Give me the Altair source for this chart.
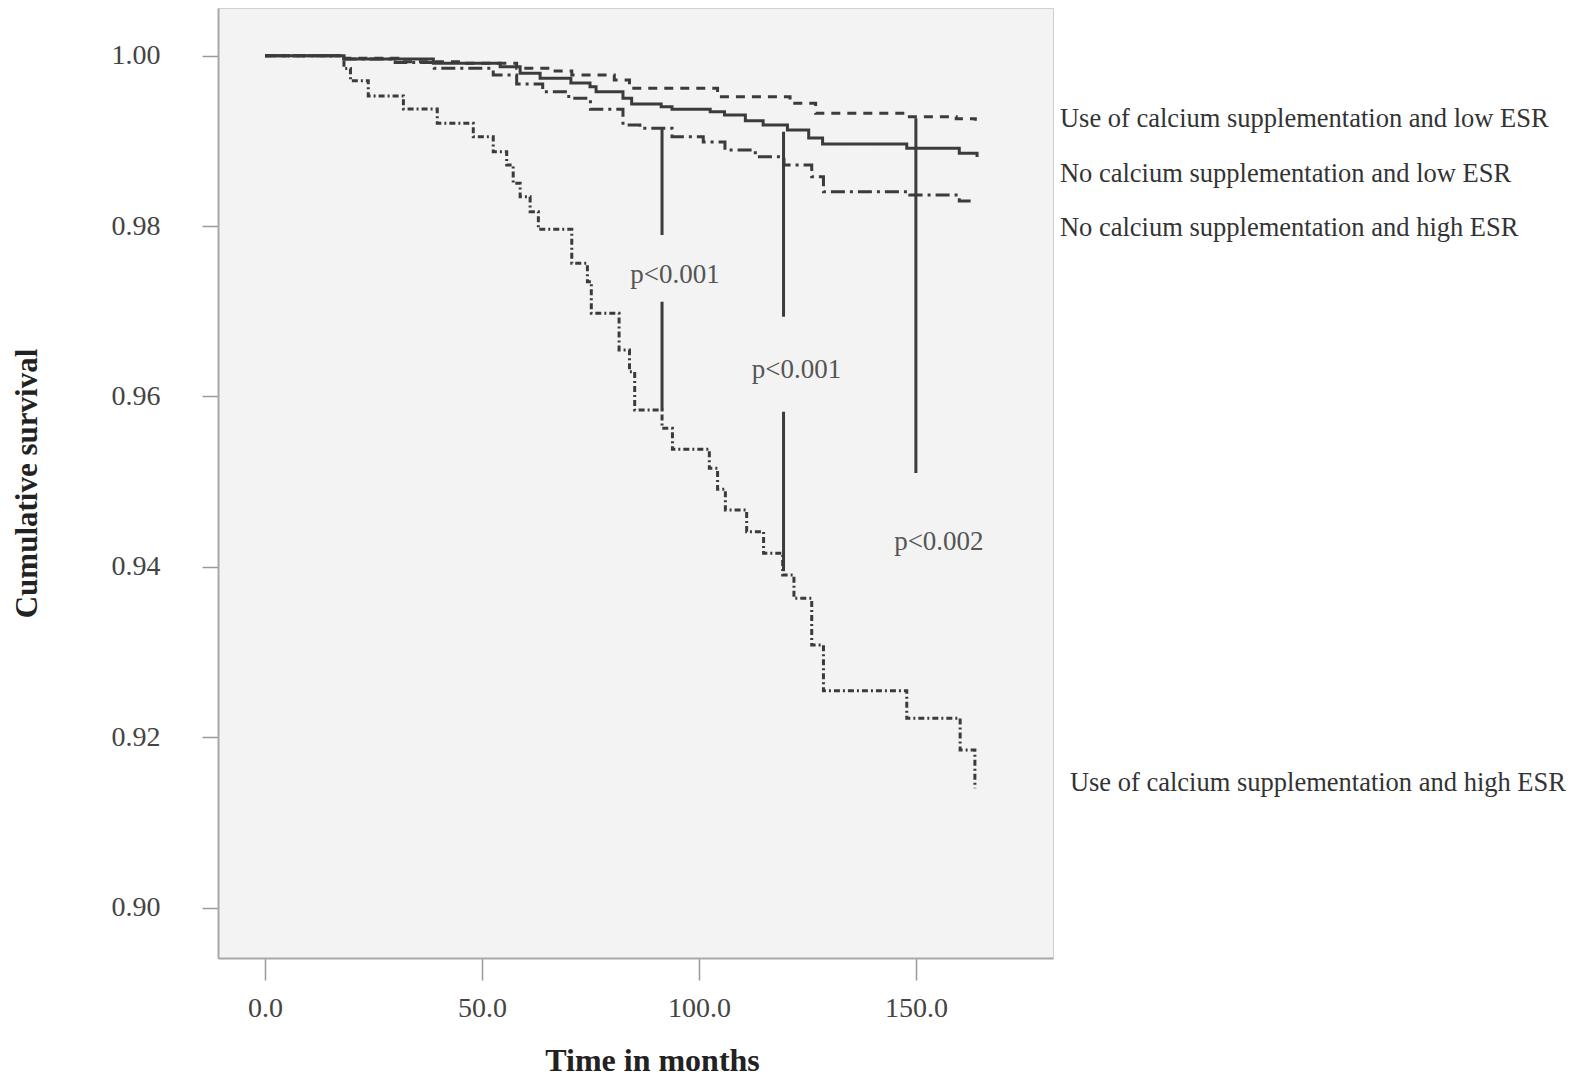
import altair as alt
import pandas as pd

# ---- data ----
series_names = [
    "Use of calcium supplementation and low ESR",
    "No calcium supplementation and low ESR",
    "No calcium supplementation and high ESR",
    "Use of calcium supplementation and high ESR",
]

a_time = [0, 18.2, 31.0, 46.5, 58.0, 66.0, 70.7, 80.5, 84.0, 104.3, 121.0, 126.9, 147.9, 159.3, 163.7]
a_surv = [1.0, 0.99968, 0.99929, 0.9991, 0.99851, 0.9982, 0.99772, 0.99714, 0.99616, 0.99518, 0.9944, 0.99323, 0.99283, 0.9926, 0.99236]

b_time = [0, 18.2, 38.8, 54.2, 58.8, 63.4, 70.5, 74.9, 76.3, 82.5, 84.5, 91.3, 93.8, 102.6, 105.9, 110.7, 114.8, 120.4, 125.3, 128.5, 147.9, 160.0, 164.1]
b_surv = [1.0, 0.9996, 0.9991, 0.9987, 0.99792, 0.99734, 0.9968, 0.99635, 0.99576, 0.995, 0.99432, 0.994, 0.9937, 0.9934, 0.99303, 0.99236, 0.99186, 0.99127, 0.99033, 0.98963, 0.98912, 0.98853, 0.9881]

c_time = [0, 18.2, 30.0, 39.0, 52.6, 58.0, 64.0, 70.0, 75.0, 82.5, 86.4, 93.8, 101.0, 106.0, 113.0, 119.6, 126.0, 128.7, 148.6, 160.0, 163.7]
c_surv = [1.0, 0.9996, 0.9992, 0.99851, 0.99772, 0.99667, 0.99576, 0.99499, 0.9937, 0.99186, 0.99147, 0.99048, 0.98986, 0.98892, 0.98814, 0.98716, 0.98579, 0.98403, 0.98364, 0.98294, 0.98294]

d_time = [0, 18.2, 19.7, 23.8, 31.9, 39.7, 48.0, 52.6, 55.7, 57.2, 58.8, 61.1, 63.0, 70.7, 74.3, 75.2, 81.6, 84.0, 85.2, 91.5, 93.9, 102.4, 104.3, 106.1, 111.0, 114.9, 119.3, 121.9, 126.0, 128.7, 147.9, 160.2, 163.6]
d_surv = [1.0, 0.9985, 0.99705, 0.99526, 0.99373, 0.99206, 0.99048, 0.98872, 0.98716, 0.98501, 0.98344, 0.98168, 0.97961, 0.97562, 0.97347, 0.96976, 0.96545, 0.9629, 0.95841, 0.95626, 0.9538, 0.95157, 0.9491, 0.94667, 0.94413, 0.94159, 0.93905, 0.93631, 0.93083, 0.92547, 0.92223, 0.91851, 0.91401]

# vertical comparison lines
rule_time = [91.5, 91.5, 119.5, 119.5, 150.0]
rule_top = [0.99147, 0.97112, 0.99107, 0.95821, 0.99264]
rule_bottom = [0.97895, 0.95841, 0.96936, 0.9395, 0.95101]

# p-value annotations
p_labels = ["p<0.001", "p<0.001", "p<0.002"]
p_time = [94.5, 122.5, 155.3]
p_surv = [0.97425, 0.9631, 0.94294]

# series labels at the right
label_time = [183.2, 183.2, 183.2, 185.5]
label_surv = [0.99256, 0.98611, 0.97977, 0.91463]

x_ticks = [0, 50, 100, 150]
y_ticks = [0.90, 0.92, 0.94, 0.96, 0.98, 1.00]

# ---- build tables ----
rows = []
for name, ts, ss in zip(series_names, [a_time, b_time, c_time, d_time], [a_surv, b_surv, c_surv, d_surv]):
    for t, s in zip(ts, ss):
        rows.append({"series": name, "time": t, "surv": s})
curves = pd.DataFrame(rows)
rules = pd.DataFrame({"time": rule_time, "top": rule_top, "bottom": rule_bottom})
ptext = pd.DataFrame({"label": p_labels, "time": p_time, "surv": p_surv})
ltext = pd.DataFrame({"label": series_names, "time": label_time, "surv": label_surv})

FONT = "Liberation Serif"
LINE = "#3b3b3b"

xscale = alt.Scale(domain=[-10.83, 181.6], nice=False, zero=False)
yscale = alt.Scale(domain=[0.8941, 1.00559], nice=False, zero=False)

x_axis = alt.Axis(
    values=x_ticks, format=".1f", title="Time in months", grid=False,
    tickSize=22, tickColor="#9a9a9a", tickWidth=1.5,
    domainColor="#a8a8a8", domainWidth=2,
    labelFont=FONT, labelFontSize=28, labelColor="#444444", labelPadding=14,
    titleFont=FONT, titleFontSize=32, titleFontWeight="bold", titleColor="#222222",
    titleX=434, titleY=102, titleBaseline="middle",
)
y_axis = alt.Axis(
    values=y_ticks, format=".2f", title="Cumulative survival", grid=False,
    tickSize=16, tickColor="#9a9a9a", tickWidth=1.5,
    domainColor="#a8a8a8", domainWidth=2,
    labelFont=FONT, labelFontSize=28, labelColor="#444444", labelPadding=42,
    titleFont=FONT, titleFontSize=31, titleFontWeight="bold", titleColor="#222222",
    titleAngle=-90, titleX=-191, titleY=475, titleBaseline="middle", titleAlign="center",
)

lines = alt.Chart(curves).mark_line(interpolate="step-after", strokeWidth=3, color=LINE).encode(
    x=alt.X("time:Q", scale=xscale, axis=x_axis),
    y=alt.Y("surv:Q", scale=yscale, axis=y_axis),
    strokeDash=alt.StrokeDash(
        "series:N",
        scale=alt.Scale(domain=series_names, range=[[9, 7], [1, 0], [14, 5, 3, 5], [6, 3, 2, 3]]),
        legend=None,
    ),
    detail="series:N",
)

vrules = alt.Chart(rules).mark_rule(color=LINE, strokeWidth=3).encode(
    x=alt.X("time:Q", scale=xscale),
    y=alt.Y("top:Q", scale=yscale),
    y2="bottom:Q",
)

ptexts = alt.Chart(ptext).mark_text(font=FONT, fontSize=27, color="#555555", align="center", baseline="middle").encode(
    x=alt.X("time:Q", scale=xscale),
    y=alt.Y("surv:Q", scale=yscale),
    text="label:N",
)

ltexts = alt.Chart(ltext).mark_text(font=FONT, fontSize=26.5, color="#333333", align="left", baseline="middle").encode(
    x=alt.X("time:Q", scale=xscale),
    y=alt.Y("surv:Q", scale=yscale),
    text="label:N",
)

chart = (
    alt.layer(lines, vrules, ptexts, ltexts)
    .properties(
        width=835, height=950,
        autosize=alt.AutoSizeParams(type="none"),
        padding={"left": 210, "top": 0, "right": 524, "bottom": 124},
        background="white",
    )
    .configure_view(fill="#f3f3f3", stroke="#cfcfcf", strokeWidth=1)
)

chart.save("out.html", embed_options={"renderer": "svg", "actions": False})
